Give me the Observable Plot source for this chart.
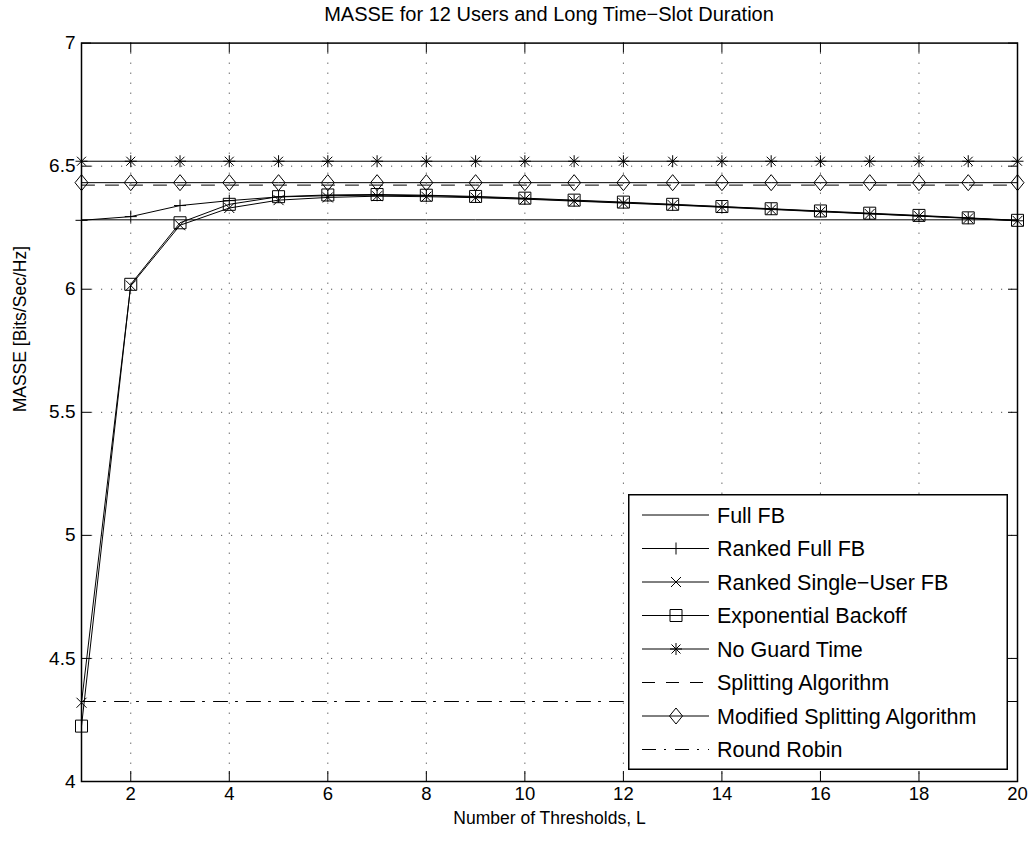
<!DOCTYPE html>
<html><head><meta charset="utf-8">
<script src="https://cdn.jsdelivr.net/npm/d3@7"></script>
<script src="https://cdn.jsdelivr.net/npm/@observablehq/plot@0.6"></script>
<style>
body{margin:0;background:#fff;font-family:"Liberation Sans",Arial,sans-serif;}
#wrap{position:relative;width:1036px;height:843px;}
#title{position:absolute;left:81px;width:936px;top:0;height:28px;line-height:28px;text-align:center;font-size:20px;color:#000;}
#chart{position:absolute;left:0;top:28px;}
#legend{position:absolute;left:628px;top:494px;}
</style></head><body>
<div id="wrap"><div id="title">MASSE for 12 Users and Long Time−Slot Duration</div><div id="chart"></div><div id="legend"></div></div>
<script>
// ---- data ----
const L = [1,2,3,4,5,6,7,8,9,10,11,12,13,14,15,16,17,18,19,20];
const rankedFullFB = [6.280,6.295,6.340,6.360,6.375,6.380,6.382,6.380,6.375,6.368,6.360,6.352,6.344,6.335,6.326,6.316,6.307,6.298,6.289,6.278];
const rankedSingleUserFB = [4.320,6.015,6.260,6.330,6.362,6.373,6.378,6.376,6.372,6.366,6.358,6.350,6.342,6.333,6.324,6.315,6.306,6.297,6.288,6.278];
const exponentialBackoff = [4.225,6.020,6.270,6.345,6.376,6.383,6.385,6.382,6.377,6.370,6.362,6.354,6.345,6.336,6.327,6.318,6.309,6.300,6.290,6.280];
const fullFB = 6.282;
const noGuardTime = 6.520;
const splittingAlgorithm = 6.423;
const modifiedSplitting = 6.433;
const roundRobin = 4.325;
const xTicks = [2,4,6,8,10,12,14,16,18,20];
const yTicks = [4,4.5,5,5.5,6,6.5,7];
const yTickLabels = ["4","4.5","5","5.5","6","6.5","7"];
const seriesNames = ["Full FB","Ranked Full FB","Ranked Single−User FB","Exponential Backoff","No Guard Time","Splitting Algorithm","Modified Splitting Algorithm","Round Robin"];
const xLabel = "Number of Thresholds, L";
const yLabel = "MASSE [Bits/Sec/Hz]";

// ---- symbols (MATLAB-like markers) ----
const sym = {
  plus:{draw(c){c.moveTo(-6,0);c.lineTo(6,0);c.moveTo(0,-6);c.lineTo(0,6);}},
  times:{draw(c){c.moveTo(-5,-5);c.lineTo(5,5);c.moveTo(-5,5);c.lineTo(5,-5);}},
  square:{draw(c){c.moveTo(-6,-6);c.lineTo(6,-6);c.lineTo(6,6);c.lineTo(-6,6);c.closePath();}},
  asterisk:{draw(c){c.moveTo(-6,0);c.lineTo(6,0);c.moveTo(0,-6);c.lineTo(0,6);c.moveTo(-4.5,-4.5);c.lineTo(4.5,4.5);c.moveTo(-4.5,4.5);c.lineTo(4.5,-4.5);}},
  diamond:{draw(c){c.moveTo(0,-8);c.lineTo(6.5,0);c.lineTo(0,8);c.lineTo(-6.5,0);c.closePath();}}
};

const rows = (vals) => L.map((x,i)=>({x, y: Array.isArray(vals)? vals[i] : vals}));
const series = [
  {name:seriesNames[0], data:rows(fullFB), dash:null, symbol:null},
  {name:seriesNames[1], data:rows(rankedFullFB), dash:null, symbol:sym.plus},
  {name:seriesNames[2], data:rows(rankedSingleUserFB), dash:null, symbol:sym.times},
  {name:seriesNames[3], data:rows(exponentialBackoff), dash:null, symbol:sym.square},
  {name:seriesNames[4], data:rows(noGuardTime), dash:null, symbol:sym.asterisk},
  {name:seriesNames[5], data:rows(splittingAlgorithm), dash:"13,11", symbol:null},
  {name:seriesNames[6], data:rows(modifiedSplitting), dash:null, symbol:sym.diamond},
  {name:seriesNames[7], data:rows(roundRobin), dash:"14,8,2,9", symbol:null}
];

const W = 1036, H = 815, mL = 81, mR = 19, mT = 14.6, mB = 62;
const pW = W - mL - mR, pH = H - mT - mB;
const font = "Liberation Sans, Arial, Helvetica, sans-serif";

const marks = [
  Plot.gridX(xTicks.filter(v=>v<20), {stroke:"#000", strokeOpacity:0.7, strokeDasharray:"1.2,8.8"}),
  Plot.gridY(yTicks.filter(v=>v>4 && v<7), {stroke:"#000", strokeOpacity:0.7, strokeDasharray:"1.2,8.8"})
];
for (const s of series) {
  marks.push(Plot.line(s.data, {x:"x", y:"y", stroke:"#000", strokeWidth:1, strokeDasharray:s.dash}));
}
for (const s of series) {
  if (s.symbol) marks.push(Plot.dot(s.data, {x:"x", y:"y", symbol:s.symbol, r:6, fill:"none", stroke:"#000", strokeWidth:1}));
}
marks.push(
  Plot.frame({stroke:"#000", strokeWidth:1.5}),
  Plot.ruleX(xTicks, {stroke:"#000", insetTop:pH-10}),
  Plot.ruleX(xTicks, {stroke:"#000", insetBottom:pH-10}),
  Plot.ruleY(yTicks, {stroke:"#000", insetRight:pW-10}),
  Plot.ruleY(yTicks, {stroke:"#000", insetLeft:pW-9}),
  Plot.axisX({ticks:xTicks, tickSize:0, tickPadding:5, tickFormat:d=>String(d), label:null, fontSize:18.5}),
  Plot.axisY({ticks:yTicks, tickSize:0, tickPadding:6, tickFormat:d=>yTickLabels[yTicks.indexOf(d)], label:null, fontSize:19}),
  Plot.text([xLabel], {frameAnchor:"bottom", dy:42, text:d=>d, fontSize:17.5}),
  Plot.text([yLabel], {frameAnchor:"left", dx:-61, rotate:-90, text:d=>d, fontSize:17.5})
);

const chart = Plot.plot({
  width:W, height:H, marginLeft:mL, marginRight:mR, marginTop:mT, marginBottom:mB,
  style:{fontFamily:font, fontSize:"19px", background:"#fff", color:"#000"},
  x:{domain:[1,20]}, y:{domain:[4,7]},
  marks
});
document.getElementById("chart").appendChild(chart);

// ---- legend ----
const lw = 380, lh = 276;
const lg = d3.select("#legend").append("svg").attr("width", lw).attr("height", lh)
  .style("font-family", font).style("font-size", "21.5px");
lg.append("rect").attr("x",0.75).attr("y",0.75).attr("width",lw-1.5).attr("height",lh-1.5)
  .attr("fill","#fff").attr("stroke","#000").attr("stroke-width",1.5);
series.forEach((s,i)=>{
  const cy = 21 + i*33.5;
  lg.append("line").attr("x1",14).attr("x2",81).attr("y1",cy).attr("y2",cy)
    .attr("stroke","#000").attr("stroke-width",1).attr("stroke-dasharray", s.dash);
  if (s.symbol) {
    const p = d3.path(); s.symbol.draw(p);
    lg.append("path").attr("d", p.toString()).attr("transform",`translate(48,${cy})`)
      .attr("fill","none").attr("stroke","#000").attr("stroke-width",1);
  }
  lg.append("text").attr("x",89).attr("y",cy).attr("dy","0.36em").attr("fill","#000").text(s.name);
});
</script>
</body></html>
